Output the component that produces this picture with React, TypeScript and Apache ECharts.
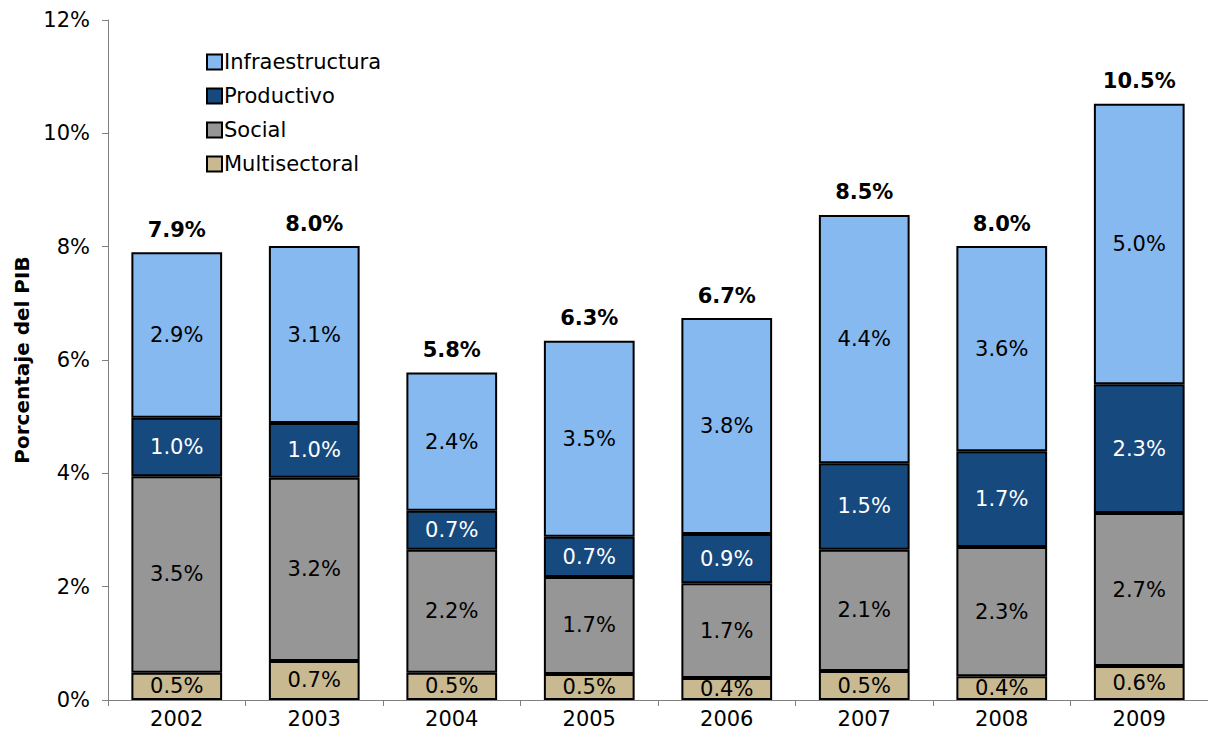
import React, { useEffect, useRef } from "react";
import * as echarts from "echarts";

const years = ["2002", "2003", "2004", "2005", "2006", "2007", "2008", "2009"];
const multisectoral = [0.48, 0.69, 0.48, 0.46, 0.39, 0.51, 0.42, 0.6];
const social = [3.47, 3.23, 2.17, 1.71, 1.67, 2.14, 2.28, 2.7];
const productivo = [1.03, 0.97, 0.69, 0.71, 0.87, 1.53, 1.69, 2.27];
const infraestructura = [2.92, 3.12, 2.44, 3.46, 3.81, 4.38, 3.62, 4.95];
const totals = [7.9, 8.0, 5.8, 6.3, 6.7, 8.5, 8.0, 10.5];
const yTicks = [0, 2, 4, 6, 8, 10, 12];

const FONT = "DejaVu Sans, Verdana, sans-serif";
const FS = 21;

export default function App() {
  const ref = useRef<HTMLDivElement>(null);
  useEffect(() => {
    const chart = echarts.init(ref.current!, null, { renderer: "svg" });
    const border = { borderColor: "#000", borderWidth: 2 };
    const inLabel = (color: string) => ({
      show: true,
      position: "inside" as const,
      color,
      fontFamily: FONT,
      fontSize: FS,
      formatter: (p: any) => p.value.toFixed(1) + "%",
    });
    chart.setOption({
      animation: false,
      textStyle: { fontFamily: FONT },
      grid: { left: 108, right: 0, top: 20, bottom: 42, containLabel: false },
      legend: {
        data: ["Infraestructura", "Productivo", "Social", "Multisectoral"],
        orient: "vertical",
        left: 201,
        top: 46,
        itemWidth: 15,
        itemHeight: 15,
        itemGap: 12,
        textStyle: { fontFamily: FONT, fontSize: FS, color: "#000", lineHeight: 22, padding: [0, 0, 0, -3] },
        icon: "rect",
      },
      xAxis: {
        type: "category",
        data: years,
        axisLine: { lineStyle: { color: "#808080", width: 1 } },
        axisTick: { show: true, length: 6, lineStyle: { color: "#808080" } },
        axisLabel: { color: "#000", fontSize: FS, fontFamily: FONT, margin: 8 },
      },
      yAxis: {
        type: "value",
        min: 0,
        max: 12,
        interval: 2,
        name: "Porcentaje del PIB",
        nameLocation: "middle",
        nameGap: 75,
        nameTextStyle: { fontFamily: FONT, fontSize: 20, fontWeight: "bold", color: "#000" },
        axisLine: { show: true, lineStyle: { color: "#808080", width: 1 } },
        axisTick: { show: true, length: 6, lineStyle: { color: "#808080" } },
        splitLine: { show: false },
        axisLabel: {
          color: "#000",
          fontSize: FS,
          fontFamily: FONT,
          margin: 18,
          formatter: (v: number) => (yTicks.includes(v) ? v + "%" : ""),
        },
      },
      series: [
        {
          name: "Multisectoral",
          type: "bar",
          stack: "a",
          barWidth: "66%",
          data: multisectoral,
          itemStyle: { color: "#C8B991", ...border },
          label: inLabel("#000"),
        },
        {
          name: "Social",
          type: "bar",
          stack: "a",
          data: social,
          itemStyle: { color: "#969696", ...border },
          label: inLabel("#000"),
        },
        {
          name: "Productivo",
          type: "bar",
          stack: "a",
          data: productivo,
          itemStyle: { color: "#16497E", ...border },
          label: inLabel("#fff"),
        },
        {
          name: "Infraestructura",
          type: "bar",
          stack: "a",
          data: infraestructura,
          itemStyle: { color: "#86B9EF", ...border },
          label: inLabel("#000"),
        },
        {
          name: "Total",
          type: "bar",
          stack: "a",
          data: years.map(() => 0),
          itemStyle: { color: "transparent", borderWidth: 0 },
          label: {
            show: true,
            position: "top",
            distance: 12,
            color: "#000",
            fontFamily: FONT,
            fontSize: FS,
            fontWeight: "bold",
            formatter: (p: any) => totals[p.dataIndex].toFixed(1) + "%",
          },
        },
      ],
    });
    return () => chart.dispose();
  }, []);
  return (
    <div
      ref={ref}
      style={{ position: "fixed", left: 0, top: 0, width: 1208, height: 742, background: "#fff" }}
    />
  );
}
